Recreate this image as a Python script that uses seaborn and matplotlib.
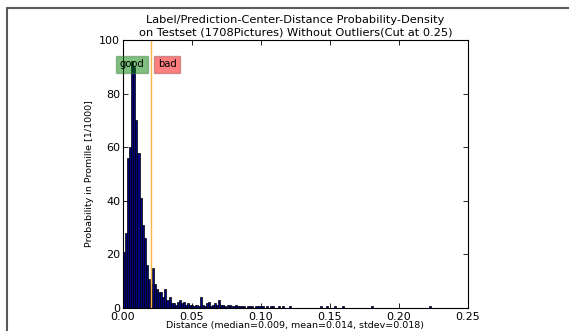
import numpy as np
import pandas as pd
import matplotlib
matplotlib.use("Agg")
import matplotlib.pyplot as plt
from matplotlib.lines import Line2D
import seaborn as sns

# histogram data: probability in promille per distance bin
bin_width = 0.0015
dense_heights = [21, 28, 56, 60, 92, 90, 70, 58, 41, 31, 26, 16, 11, 9,
                 15, 9, 7, 6, 6, 4, 7, 3, 4, 2, 1.8,
                 1.2, 2.3, 2.9, 1.8, 2.3, 1.2, 1.8, 1.2, 1.2, 0.6, 1.2, 0.6,
                 4.1,
                 1.2, 0.6, 1.8, 2.3, 0.6, 1.2, 1.8, 1.2,
                 3.0,
                 1.2, 1.2, 0.6, 1.2, 1.2, 0.6, 0.6, 1.2, 0.6, 0.6,
                 0.6, 0.6, 0, 0.6, 0.6, 0.6, 0, 0.6, 0.6, 0.6, 0.6, 0, 0.6, 0,
                 0.6, 0.6, 0, 0, 0.6, 0, 0.6, 0, 0, 0.6]
# sparse outliers further out
tail_distances = [0.144, 0.148, 0.154, 0.160, 0.181, 0.223]
tail_heights = [0.6, 0.6, 0.6, 0.6, 0.6, 0.6]

threshold = 0.02
x_ticks = [0.00, 0.05, 0.10, 0.15, 0.20, 0.25]
y_ticks = [0, 20, 40, 60, 80, 100]

sns.set_theme(style="ticks")
plt.rcParams['font.family'] = ['DejaVu Sans']
plt.rcParams['text.color'] = 'black'
plt.rcParams['axes.labelcolor'] = 'black'
plt.rcParams['xtick.color'] = 'black'
plt.rcParams['ytick.color'] = 'black'

dense_x = (np.arange(len(dense_heights)) + 0.5) * bin_width
df = pd.DataFrame({
    'dist': np.concatenate([dense_x, tail_distances]),
    'promille': np.concatenate([dense_heights, tail_heights]),
})
edges = list(np.arange(0, 0.25 + bin_width, bin_width))

fig = plt.figure(figsize=(5.69, 3.31), dpi=100)
ax = fig.add_axes([123 / 569, 1 - 308 / 331, 345 / 569, 268 / 331])

sns.histplot(data=df, x='dist', weights='promille', bins=edges, color='#000080',
             edgecolor='black', linewidth=0.5, alpha=1, ax=ax)

ax.axvline(threshold, color='#ffb347', linewidth=1)

ax.text(0.0066, 91, 'good', fontsize=7.2, ha='center', va='center', clip_on=False,
        bbox=dict(facecolor='green', alpha=0.5, edgecolor='#4a7f4a', pad=2.5))
ax.text(0.032, 91, 'bad', fontsize=7.2, ha='center', va='center',
        bbox=dict(facecolor='red', alpha=0.5, edgecolor='#a05050', pad=2.5))

ax.set_xlim(0, 0.25)
ax.set_ylim(0, 100)
ax.set_xticks(x_ticks)
ax.set_xticklabels([f'{t:.2f}' for t in x_ticks])
ax.set_yticks(y_ticks)
ax.tick_params(direction='in', top=True, right=True, labelsize=8,
               length=3.5, width=0.6, pad=2)
ax.tick_params(axis='x', pad=3)
for s in ax.spines.values():
    s.set_linewidth(0.8)
    s.set_color('black')

ax.set_title('Label/Prediction-Center-Distance Probability-Density\n'
             'on Testset (1708Pictures) Without Outliers(Cut at 0.25)',
             fontsize=8.2, pad=3, linespacing=1.3)
ax.set_xlabel('Distance (median=0.009, mean=0.014, stdev=0.018)',
              fontsize=6.8, labelpad=-1)
ax.set_ylabel('Probability in Promille [1/1000]', fontsize=6.8, labelpad=4)

# screenshot-like frame at top/left
fig.add_artist(Line2D([7 / 569, 7 / 569], [0, 1 - 8 / 331], transform=fig.transFigure,
                      color='#5a5a5a', linewidth=1.5))
fig.add_artist(Line2D([7 / 569, 1], [1 - 8 / 331, 1 - 8 / 331], transform=fig.transFigure,
                      color='#5a5a5a', linewidth=1.5))

fig.savefig('out.png', dpi=100)
